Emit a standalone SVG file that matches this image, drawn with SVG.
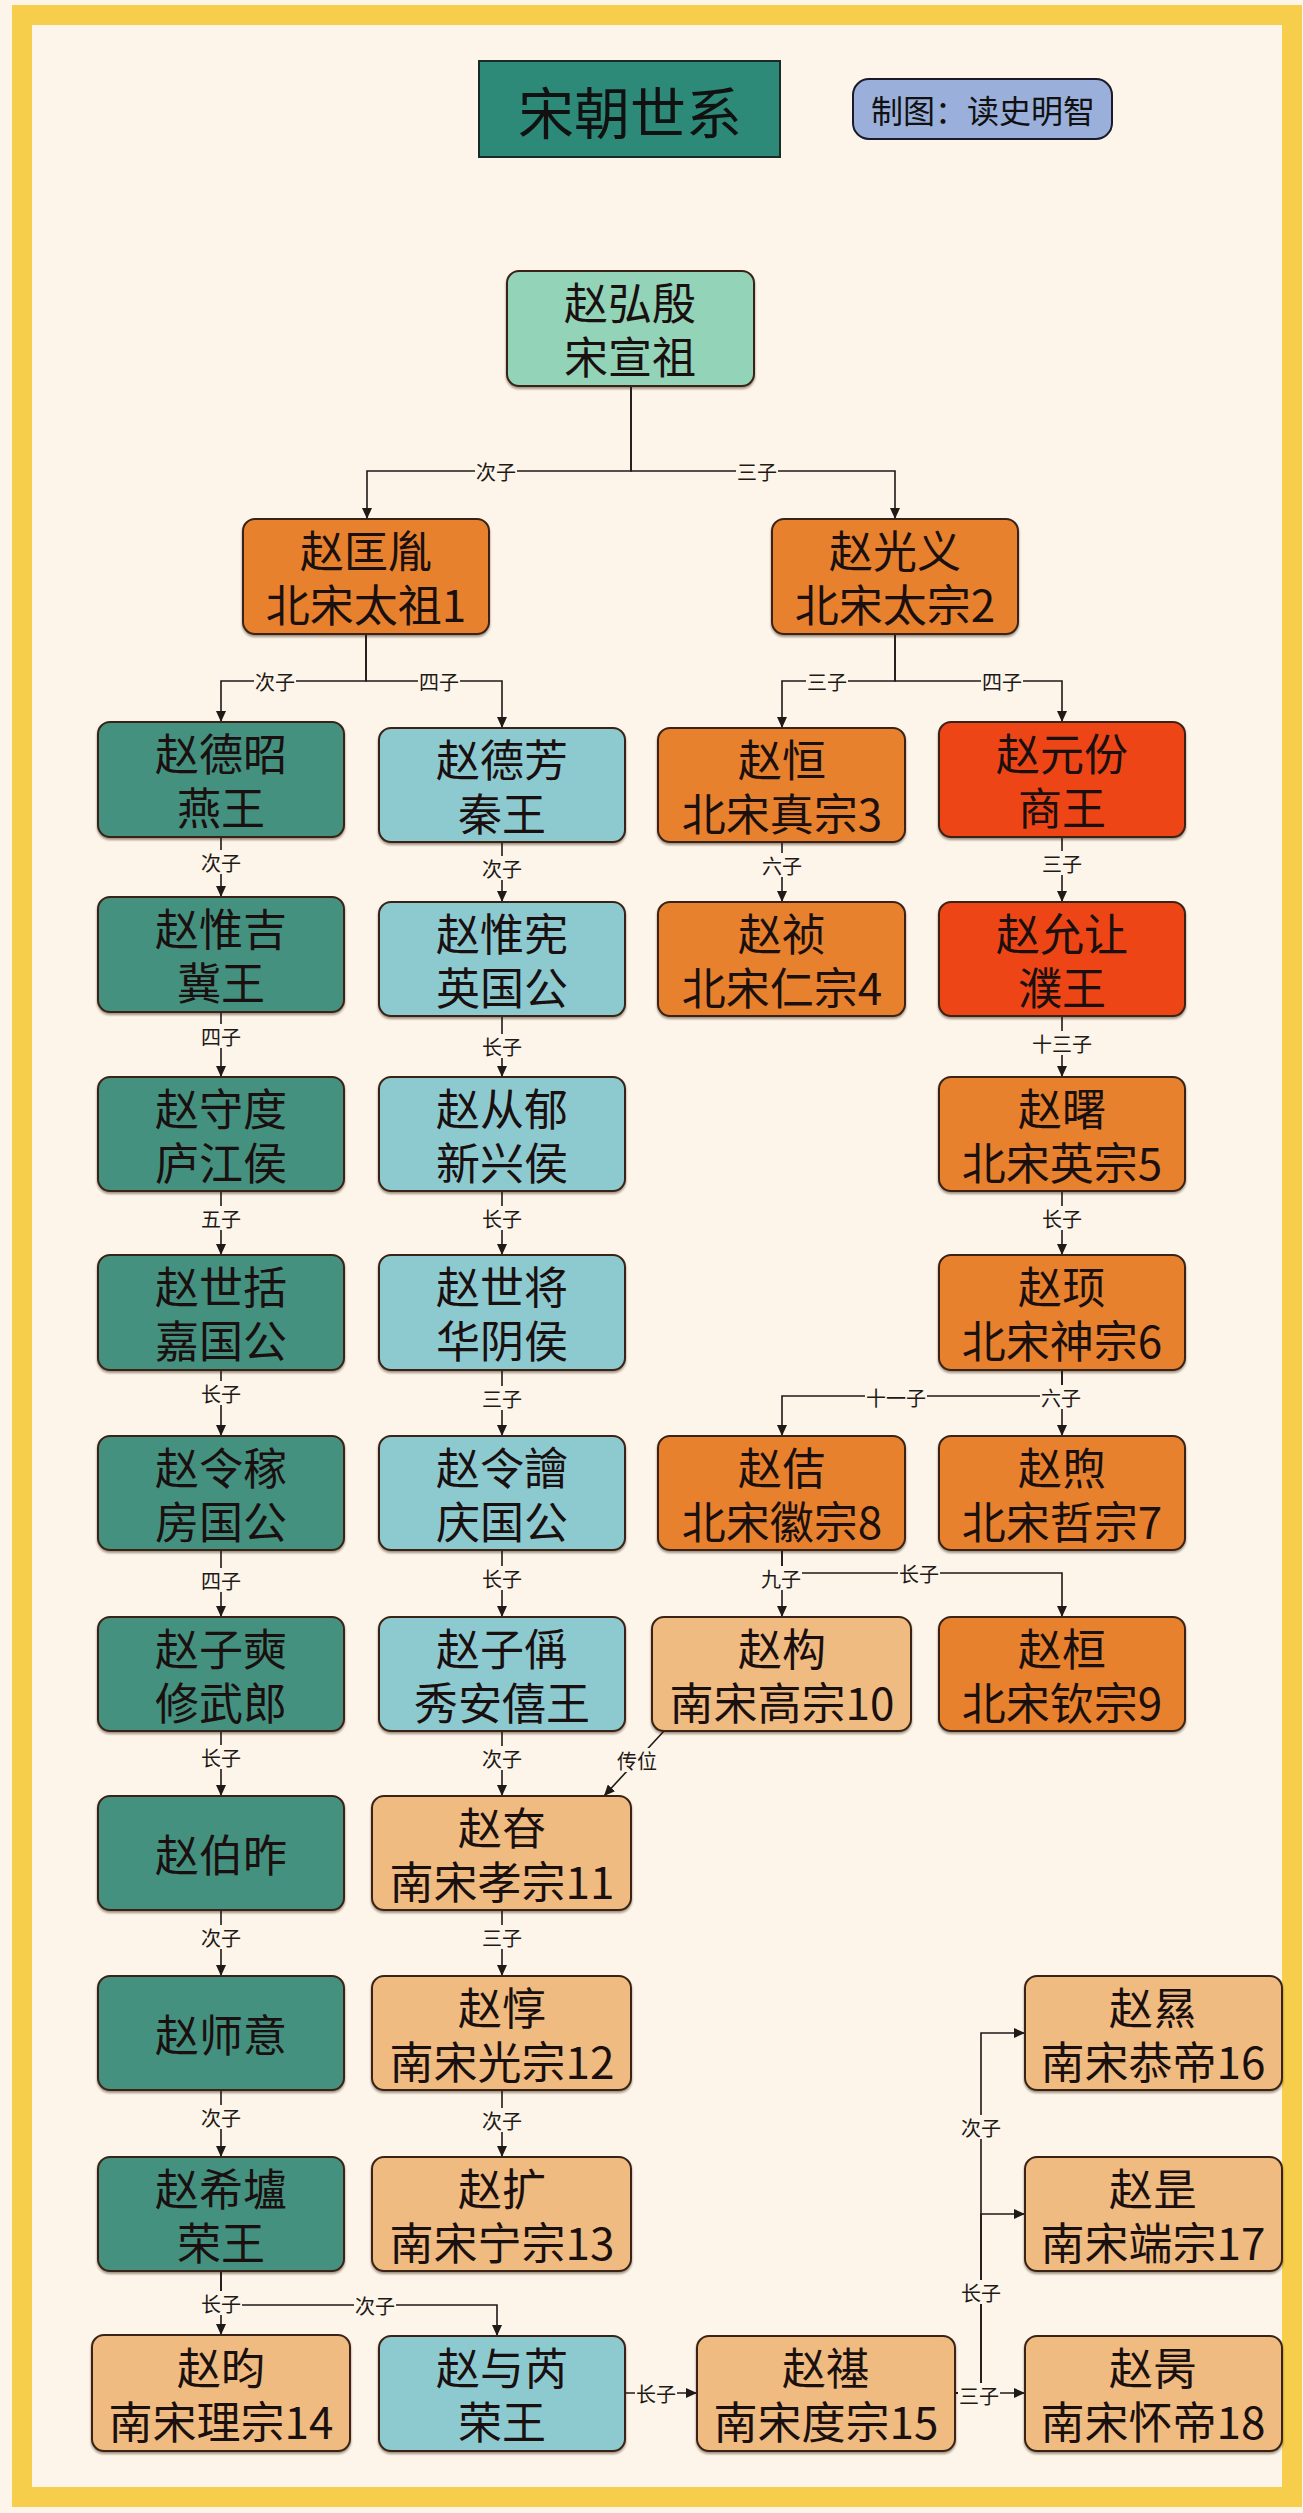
<svg xmlns="http://www.w3.org/2000/svg" width="1303" height="2513" viewBox="0 0 1303 2513">
<defs>
<marker id="arr" markerUnits="userSpaceOnUse" markerWidth="12" markerHeight="10" refX="11" refY="5" orient="auto">
<path d="M0,0 L11,5 L0,10 z" fill="#1e1a18"/>
</marker>
<filter id="sh" x="-5%" y="-5%" width="110%" height="115%">
<feDropShadow dx="0" dy="2" stdDeviation="1.2" flood-color="#2a1a10" flood-opacity="0.45"/>
</filter>
<style>
text{font-family:"Noto Sans CJK SC","Noto Sans",sans-serif;}
.n rect{stroke:#3a2416;stroke-width:2;filter:url(#sh);}
.n text{font-size:44px;fill:#1a1010;text-anchor:middle;dominant-baseline:central;}
.teal{fill:#45917F;}
.blue{fill:#8DCAD0;}
.org{fill:#E8812F;}
.red{fill:#EE4419;}
.lor{fill:#EFBB80;}
.mint{fill:#93D3B7;}
.e path{fill:none;stroke:#1e1a18;stroke-width:1.6;marker-end:url(#arr);}
.l rect{fill:#FDF5E9;}
.l text{font-size:20px;fill:#1e1a18;text-anchor:middle;dominant-baseline:central;}
</style>
</defs>
<rect x="0" y="0" width="1303" height="2513" fill="#FDF5E9"/>
<rect x="22" y="15" width="1270" height="2482" fill="#FDF5E9" stroke="#F6CE4B" stroke-width="20"/>

<g id="title">
<rect x="479" y="61" width="301" height="96" fill="#2E8A78" stroke="#1a2a26" stroke-width="2"/>
<text x="630" y="109" font-size="56" fill="#111" text-anchor="middle" dominant-baseline="central">宋朝世系</text>
</g>
<g id="author">
<rect x="853" y="79" width="259" height="60" rx="16" fill="#9AB0DA" stroke="#1a1a2a" stroke-width="2"/>
<text x="983" y="109" font-size="32" fill="#111" text-anchor="middle" dominant-baseline="central">制图：读史明智</text>
</g>

<g id="edges">
<g class="e">
<path d="M631,386 V471 H367 V519"/>
<path d="M631,386 V471 H895 V519"/>
<path d="M366,634 V681 H221 V722"/>
<path d="M366,634 V681 H502 V728"/>
<path d="M895,634 V681 H782 V728"/>
<path d="M895,634 V681 H1062 V722"/>
<path d="M221,837 V897"/>
<path d="M502,842 V902"/>
<path d="M782,842 V902"/>
<path d="M1062,837 V902"/>
<path d="M221,1012 V1077"/>
<path d="M502,1016 V1077"/>
<path d="M1062,1016 V1077"/>
<path d="M221,1191 V1255"/>
<path d="M502,1191 V1255"/>
<path d="M1062,1191 V1255"/>
<path d="M221,1370 V1436"/>
<path d="M502,1370 V1436"/>
<path d="M1062,1370 V1396 H782 V1436"/>
<path d="M1062,1370 V1436"/>
<path d="M221,1550 V1617"/>
<path d="M502,1550 V1617"/>
<path d="M782,1550 V1617"/>
<path d="M782,1550 V1573 H1062 V1617"/>
<path d="M221,1731 V1796"/>
<path d="M502,1731 V1796"/>
<path d="M664,1731 L604,1796"/>
<path d="M221,1910 V1976"/>
<path d="M502,1910 V1976"/>
<path d="M221,2090 V2157"/>
<path d="M502,2090 V2157"/>
<path d="M221,2271 V2335"/>
<path d="M221,2271 V2305 H497 V2336"/>
<path d="M625,2393 H697"/>
<path d="M955,2393 H1025"/>
<path d="M955,2393 H981 V2214 H1025"/>
<path d="M955,2393 H981 V2033 H1025"/>
</g>
<g class="l">
<rect x="475" y="459" width="42" height="24"/><text x="496" y="471">次子</text>
<rect x="736" y="459" width="42" height="24"/><text x="757" y="471">三子</text>
<rect x="254" y="669" width="42" height="24"/><text x="275" y="681">次子</text>
<rect x="418" y="669" width="42" height="24"/><text x="439" y="681">四子</text>
<rect x="806" y="669" width="42" height="24"/><text x="827" y="681">三子</text>
<rect x="981" y="669" width="42" height="24"/><text x="1002" y="681">四子</text>
<rect x="200" y="850" width="42" height="24"/><text x="221" y="862">次子</text>
<rect x="481" y="856" width="42" height="24"/><text x="502" y="868">次子</text>
<rect x="761" y="853" width="42" height="24"/><text x="782" y="865">六子</text>
<rect x="1041" y="851" width="42" height="24"/><text x="1062" y="863">三子</text>
<rect x="200" y="1024" width="42" height="24"/><text x="221" y="1036">四子</text>
<rect x="481" y="1034" width="42" height="24"/><text x="502" y="1046">长子</text>
<rect x="1031" y="1031" width="62" height="24"/><text x="1062" y="1043">十三子</text>
<rect x="200" y="1206" width="42" height="24"/><text x="221" y="1218">五子</text>
<rect x="481" y="1206" width="42" height="24"/><text x="502" y="1218">长子</text>
<rect x="1041" y="1206" width="42" height="24"/><text x="1062" y="1218">长子</text>
<rect x="200" y="1381" width="42" height="24"/><text x="221" y="1393">长子</text>
<rect x="481" y="1386" width="42" height="24"/><text x="502" y="1398">三子</text>
<rect x="865" y="1385" width="62" height="24"/><text x="896" y="1397">十一子</text>
<rect x="1040" y="1385" width="42" height="24"/><text x="1061" y="1397">六子</text>
<rect x="200" y="1568" width="42" height="24"/><text x="221" y="1580">四子</text>
<rect x="481" y="1566" width="42" height="24"/><text x="502" y="1578">长子</text>
<rect x="760" y="1566" width="42" height="24"/><text x="781" y="1578">九子</text>
<rect x="898" y="1561" width="42" height="24"/><text x="919" y="1573">长子</text>
<rect x="200" y="1745" width="42" height="24"/><text x="221" y="1757">长子</text>
<rect x="481" y="1746" width="42" height="24"/><text x="502" y="1758">次子</text>
<rect x="616" y="1748" width="42" height="24"/><text x="637" y="1760">传位</text>
<rect x="200" y="1925" width="42" height="24"/><text x="221" y="1937">次子</text>
<rect x="481" y="1925" width="42" height="24"/><text x="502" y="1937">三子</text>
<rect x="200" y="2105" width="42" height="24"/><text x="221" y="2117">次子</text>
<rect x="481" y="2108" width="42" height="24"/><text x="502" y="2120">次子</text>
<rect x="200" y="2291" width="42" height="24"/><text x="221" y="2303">长子</text>
<rect x="354" y="2293" width="42" height="24"/><text x="375" y="2305">次子</text>
<rect x="635" y="2381" width="42" height="24"/><text x="656" y="2393">长子</text>
<rect x="958" y="2383" width="42" height="24"/><text x="979" y="2395">三子</text>
<rect x="960" y="2280" width="42" height="24"/><text x="981" y="2292">长子</text>
<rect x="960" y="2115" width="42" height="24"/><text x="981" y="2127">次子</text>
</g>
</g>

<g id="n_hongyin" class="n"><rect class="mint" x="507" y="271" width="247" height="115" rx="12"/><text x="630" y="301"><tspan x="630">赵弘殷</tspan><tspan x="630" dy="54">宋宣祖</tspan></text></g>
<g id="n_kuangyin" class="n"><rect class="org" x="243" y="519" width="246" height="115" rx="12"/><text x="366" y="549"><tspan x="366">赵匡胤</tspan><tspan x="366" dy="54">北宋太祖1</tspan></text></g>
<g id="n_guangyi" class="n"><rect class="org" x="772" y="519" width="246" height="115" rx="12"/><text x="895" y="549"><tspan x="895">赵光义</tspan><tspan x="895" dy="54">北宋太宗2</tspan></text></g>

<g id="n_dezhao" class="n"><rect class="teal" x="98" y="722" width="246" height="115" rx="12"/><text x="221" y="752"><tspan x="221">赵德昭</tspan><tspan x="221" dy="54">燕王</tspan></text></g>
<g id="n_defang" class="n"><rect class="blue" x="379" y="728" width="246" height="114" rx="12"/><text x="502" y="758"><tspan x="502">赵德芳</tspan><tspan x="502" dy="54">秦王</tspan></text></g>
<g id="n_heng" class="n"><rect class="org" x="658" y="728" width="247" height="114" rx="12"/><text x="782" y="758"><tspan x="782">赵恒</tspan><tspan x="782" dy="54">北宋真宗3</tspan></text></g>
<g id="n_yuanfen" class="n"><rect class="red" x="939" y="722" width="246" height="115" rx="12"/><text x="1062" y="752"><tspan x="1062">赵元份</tspan><tspan x="1062" dy="54">商王</tspan></text></g>

<g id="n_weiji" class="n"><rect class="teal" x="98" y="897" width="246" height="115" rx="12"/><text x="221" y="927"><tspan x="221">赵惟吉</tspan><tspan x="221" dy="54">冀王</tspan></text></g>
<g id="n_weixian" class="n"><rect class="blue" x="379" y="902" width="246" height="114" rx="12"/><text x="502" y="932"><tspan x="502">赵惟宪</tspan><tspan x="502" dy="54">英国公</tspan></text></g>
<g id="n_zhen" class="n"><rect class="org" x="658" y="902" width="247" height="114" rx="12"/><text x="782" y="932"><tspan x="782">赵祯</tspan><tspan x="782" dy="54">北宋仁宗4</tspan></text></g>
<g id="n_yunrang" class="n"><rect class="red" x="939" y="902" width="246" height="114" rx="12"/><text x="1062" y="932"><tspan x="1062">赵允让</tspan><tspan x="1062" dy="54">濮王</tspan></text></g>

<g id="n_shoudu" class="n"><rect class="teal" x="98" y="1077" width="246" height="114" rx="12"/><text x="221" y="1107"><tspan x="221">赵守度</tspan><tspan x="221" dy="54">庐江侯</tspan></text></g>
<g id="n_congyu" class="n"><rect class="blue" x="379" y="1077" width="246" height="114" rx="12"/><text x="502" y="1107"><tspan x="502">赵从郁</tspan><tspan x="502" dy="54">新兴侯</tspan></text></g>
<g id="n_shu" class="n"><rect class="org" x="939" y="1077" width="246" height="114" rx="12"/><text x="1062" y="1107"><tspan x="1062">赵曙</tspan><tspan x="1062" dy="54">北宋英宗5</tspan></text></g>

<g id="n_shikuo" class="n"><rect class="teal" x="98" y="1255" width="246" height="115" rx="12"/><text x="221" y="1285"><tspan x="221">赵世括</tspan><tspan x="221" dy="54">嘉国公</tspan></text></g>
<g id="n_shijiang" class="n"><rect class="blue" x="379" y="1255" width="246" height="115" rx="12"/><text x="502" y="1285"><tspan x="502">赵世将</tspan><tspan x="502" dy="54">华阴侯</tspan></text></g>
<g id="n_xu" class="n"><rect class="org" x="939" y="1255" width="246" height="115" rx="12"/><text x="1062" y="1285"><tspan x="1062">赵顼</tspan><tspan x="1062" dy="54">北宋神宗6</tspan></text></g>

<g id="n_lingjia" class="n"><rect class="teal" x="98" y="1436" width="246" height="114" rx="12"/><text x="221" y="1466"><tspan x="221">赵令稼</tspan><tspan x="221" dy="54">房国公</tspan></text></g>
<g id="n_linghui" class="n"><rect class="blue" x="379" y="1436" width="246" height="114" rx="12"/><text x="502" y="1466"><tspan x="502">赵令譮</tspan><tspan x="502" dy="54">庆国公</tspan></text></g>
<g id="n_ji" class="n"><rect class="org" x="658" y="1436" width="247" height="114" rx="12"/><text x="782" y="1466"><tspan x="782">赵佶</tspan><tspan x="782" dy="54">北宋徽宗8</tspan></text></g>
<g id="n_xu2" class="n"><rect class="org" x="939" y="1436" width="246" height="114" rx="12"/><text x="1062" y="1466"><tspan x="1062">赵煦</tspan><tspan x="1062" dy="54">北宋哲宗7</tspan></text></g>

<g id="n_zishi" class="n"><rect class="teal" x="98" y="1617" width="246" height="114" rx="12"/><text x="221" y="1647"><tspan x="221">赵子奭</tspan><tspan x="221" dy="54">修武郎</tspan></text></g>
<g id="n_zicheng" class="n"><rect class="blue" x="379" y="1617" width="246" height="114" rx="12"/><text x="502" y="1647"><tspan x="502">赵子偁</tspan><tspan x="502" dy="54">秀安僖王</tspan></text></g>
<g id="n_gou" class="n"><rect class="lor" x="652" y="1617" width="259" height="114" rx="12"/><text x="782" y="1647"><tspan x="782">赵构</tspan><tspan x="782" dy="54">南宋高宗10</tspan></text></g>
<g id="n_huan" class="n"><rect class="org" x="939" y="1617" width="246" height="114" rx="12"/><text x="1062" y="1647"><tspan x="1062">赵桓</tspan><tspan x="1062" dy="54">北宋钦宗9</tspan></text></g>

<g id="n_bozuo" class="n"><rect class="teal" x="98" y="1796" width="246" height="114" rx="12"/><text x="221" y="1853">赵伯昨</text></g>
<g id="n_shen" class="n"><rect class="lor" x="372" y="1796" width="259" height="114" rx="12"/><text x="502" y="1826"><tspan x="502">赵昚</tspan><tspan x="502" dy="54">南宋孝宗11</tspan></text></g>

<g id="n_shiyi" class="n"><rect class="teal" x="98" y="1976" width="246" height="114" rx="12"/><text x="221" y="2033">赵师意</text></g>
<g id="n_dun" class="n"><rect class="lor" x="372" y="1976" width="259" height="114" rx="12"/><text x="502" y="2006"><tspan x="502">赵惇</tspan><tspan x="502" dy="54">南宋光宗12</tspan></text></g>
<g id="n_xian" class="n"><rect class="lor" x="1025" y="1976" width="257" height="114" rx="12"/><text x="1153" y="2006"><tspan x="1153">赵㬎</tspan><tspan x="1153" dy="54">南宋恭帝16</tspan></text></g>

<g id="n_xilu" class="n"><rect class="teal" x="98" y="2157" width="246" height="114" rx="12"/><text x="221" y="2187"><tspan x="221">赵希壚</tspan><tspan x="221" dy="54">荣王</tspan></text></g>
<g id="n_kuo" class="n"><rect class="lor" x="372" y="2157" width="259" height="114" rx="12"/><text x="502" y="2187"><tspan x="502">赵扩</tspan><tspan x="502" dy="54">南宋宁宗13</tspan></text></g>
<g id="n_shi" class="n"><rect class="lor" x="1025" y="2157" width="257" height="114" rx="12"/><text x="1153" y="2187"><tspan x="1153">赵昰</tspan><tspan x="1153" dy="54">南宋端宗17</tspan></text></g>

<g id="n_yun" class="n"><rect class="lor" x="92" y="2335" width="258" height="116" rx="12"/><text x="221" y="2366"><tspan x="221">赵昀</tspan><tspan x="221" dy="54">南宋理宗14</tspan></text></g>
<g id="n_yurui" class="n"><rect class="blue" x="379" y="2336" width="246" height="115" rx="12"/><text x="502" y="2366"><tspan x="502">赵与芮</tspan><tspan x="502" dy="54">荣王</tspan></text></g>
<g id="n_qi" class="n"><rect class="lor" x="697" y="2336" width="258" height="115" rx="12"/><text x="826" y="2366"><tspan x="826">赵禥</tspan><tspan x="826" dy="54">南宋度宗15</tspan></text></g>
<g id="n_bing" class="n"><rect class="lor" x="1025" y="2336" width="257" height="115" rx="12"/><text x="1153" y="2366"><tspan x="1153">赵昺</tspan><tspan x="1153" dy="54">南宋怀帝18</tspan></text></g>
</svg>
